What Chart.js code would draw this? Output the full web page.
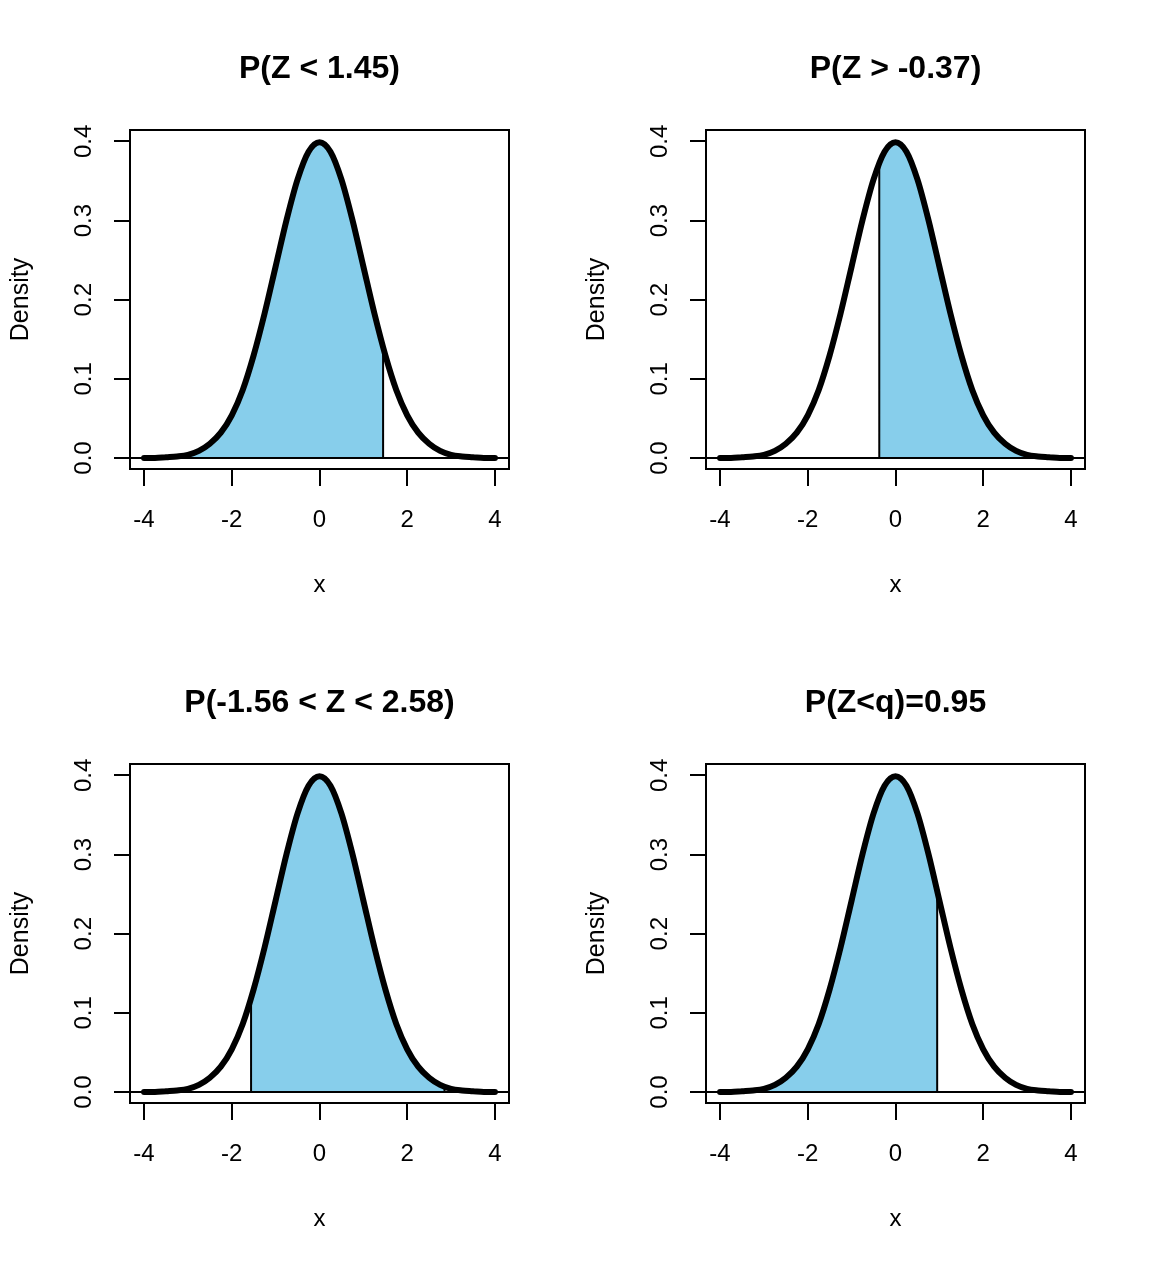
<!DOCTYPE html>
<html>
<head>
<meta charset="utf-8">
<script src="https://cdn.jsdelivr.net/npm/chart.js@4"></script>
<style>
  body { margin: 0; background: #fff; }
  #wrap { position: relative; width: 1152px; height: 1267px; }
  canvas { position: absolute; }
</style>
</head>
<body>
<div id="wrap">
  <canvas id="p0" width="576" height="634" style="left:0;top:0"></canvas>
  <canvas id="p1" width="576" height="634" style="left:576px;top:0"></canvas>
  <canvas id="p2" width="576" height="634" style="left:0;top:634px"></canvas>
  <canvas id="p3" width="576" height="634" style="left:576px;top:634px"></canvas>
</div>
<script>
// densidade, passo 0.25
const xs = [-4, -3.75, -3.5, -3.25, -3, -2.75, -2.5, -2.25, -2, -1.75, -1.5, -1.25, -1, -0.75, -0.5, -0.25,
  0, 0.25, 0.5, 0.75, 1, 1.25, 1.5, 1.75, 2, 2.25, 2.5, 2.75, 3, 3.25, 3.5, 3.75, 4];
const dens = [0.000, 0.000, 0.001, 0.002, 0.004, 0.009, 0.018, 0.032, 0.054, 0.086, 0.130, 0.183, 0.242, 0.301, 0.352, 0.387,
  0.399, 0.387, 0.352, 0.301, 0.242, 0.183, 0.130, 0.086, 0.054, 0.032, 0.018, 0.009, 0.004, 0.002, 0.001, 0.000, 0.000];

const titulos = ["P(Z < 1.45)", "P(Z > -0.37)", "P(-1.56 < Z < 2.58)", "P(Z<q)=0.95"];
const areaDe = [-4, -0.37, -1.56, -4];
const areaAte = [1.45, 4, 2.85, 0.95];
const alturaDe = [0, 0.372, 0.118, 0];
const alturaAte = [0.139, 0, 0.007, 0.254];

const xTicks = [-4, -2, 0, 2, 4];
const yTicks = [0, 0.1, 0.2, 0.3, 0.4];
const yTickLabels = ["0.0", "0.1", "0.2", "0.3", "0.4"];

const fonte = "'Liberation Sans', Arial, sans-serif";

function curva() {
  return xs.map((x, i) => ({ x: x, y: dens[i] }));
}

function poligono(k) {
  const a = areaDe[k], b = areaAte[k];
  const pts = [{ x: a, y: 0 }, { x: a, y: alturaDe[k] }];
  xs.forEach((x, i) => {
    if (x > a && x < b) pts.push({ x: x, y: dens[i] });
  });
  pts.push({ x: b, y: alturaAte[k] });
  pts.push({ x: b, y: 0 });
  return pts;
}

const eixosR = {
  id: "eixosR",
  afterDraw(chart, args, opts) {
    const ctx = chart.ctx;
    const a = chart.chartArea;
    const sx = chart.scales.x, sy = chart.scales.y;
    ctx.save();
    ctx.strokeStyle = "#000";
    ctx.fillStyle = "#000";
    ctx.lineWidth = 2;
    // caixa
    ctx.strokeRect(a.left, a.top, a.right - a.left, a.bottom - a.top);
    // eixo x
    ctx.beginPath();
    xTicks.forEach(t => {
      const px = Math.round(sx.getPixelForValue(t));
      ctx.moveTo(px, a.bottom);
      ctx.lineTo(px, a.bottom + 17);
    });
    ctx.stroke();
    ctx.font = "24px " + fonte;
    ctx.textAlign = "center";
    ctx.textBaseline = "middle";
    xTicks.forEach(t => {
      ctx.fillText(String(t), sx.getPixelForValue(t), a.bottom + 51);
    });
    // eixo y
    ctx.beginPath();
    yTicks.forEach(t => {
      const py = Math.round(sy.getPixelForValue(t));
      ctx.moveTo(a.left, py);
      ctx.lineTo(a.left - 16, py);
    });
    ctx.stroke();
    yTicks.forEach((t, i) => {
      ctx.save();
      ctx.translate(a.left - 46, sy.getPixelForValue(t));
      ctx.rotate(-Math.PI / 2);
      ctx.fillText(yTickLabels[i], 0, 0);
      ctx.restore();
    });
    // rotulos
    const cx = (a.left + a.right) / 2, cy = (a.top + a.bottom) / 2;
    ctx.fillText("x", cx, a.bottom + 116);
    ctx.save();
    ctx.translate(a.left - 109, cy);
    ctx.rotate(-Math.PI / 2);
    ctx.font = "25px " + fonte;
    ctx.fillText("Density", 0, 0);
    ctx.restore();
    ctx.font = "bold 32px " + fonte;
    ctx.fillText(opts.titulo, cx, a.top - 61);
    ctx.restore();
  }
};

function desenhar(k) {
  const ctx = document.getElementById("p" + k).getContext("2d");
  new Chart(ctx, {
    type: "line",
    data: {
      datasets: [
        {
          data: curva(),
          borderColor: "#000",
          borderWidth: 6,
          borderCapStyle: "round",
          borderJoinStyle: "round",
          cubicInterpolationMode: "monotone",
          pointRadius: 0,
          fill: false,
          order: 0
        },
        {
          data: [{ x: -4.32, y: 0 }, { x: 4.32, y: 0 }],
          borderColor: "#000",
          borderWidth: 2,
          pointRadius: 0,
          fill: false,
          order: 1
        },
        {
          data: poligono(k),
          borderColor: "#000",
          borderWidth: 2,
          backgroundColor: "#87CEEB",
          tension: 0,
          pointRadius: 0,
          fill: "origin",
          order: 2
        }
      ]
    },
    options: {
      responsive: false,
      animation: false,
      events: [],
      layout: { padding: { left: 130, right: 67, top: 130, bottom: 165 } },
      scales: {
        x: { type: "linear", min: -4.32, max: 4.32, display: false },
        y: { type: "linear", min: -0.0139, max: 0.4144, display: false }
      },
      plugins: {
        legend: { display: false },
        tooltip: { enabled: false },
        eixosR: { titulo: titulos[k] }
      }
    },
    plugins: [eixosR]
  });
}

[0, 1, 2, 3].forEach(desenhar);
</script>
</body>
</html>
